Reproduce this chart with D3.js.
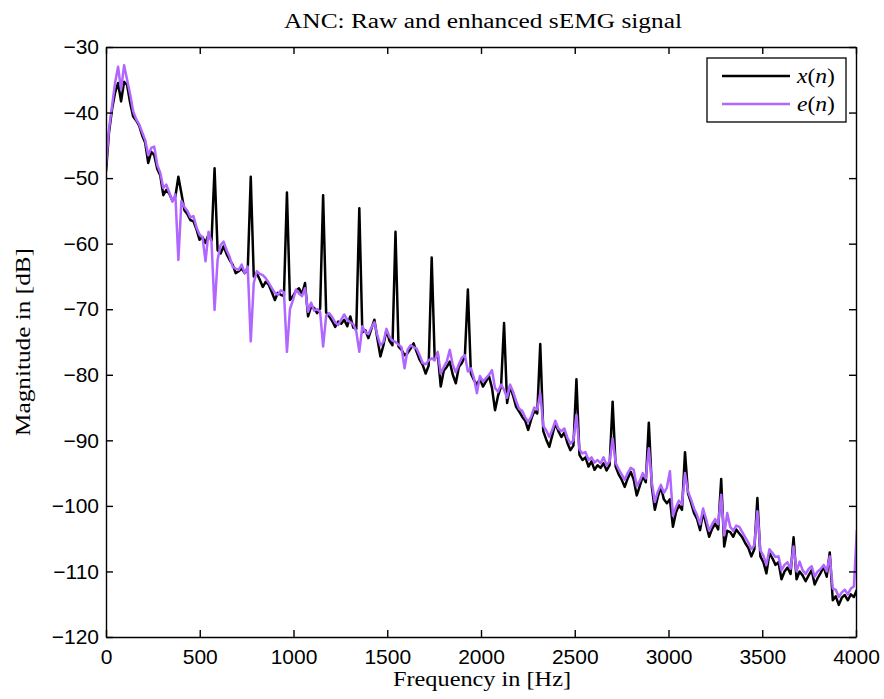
<!DOCTYPE html>
<html>
<head>
<meta charset="utf-8">
<script src="https://cdn.jsdelivr.net/npm/d3@7"></script>
<style>
  body { margin: 0; background: #fff; }
  .axis path, .axis line { stroke: #000; stroke-width: 1.4; }
  .axis text { font-family: "Liberation Sans", Arial, sans-serif; font-size: 21px; fill: #000; }
  .serif { font-family: "Liberation Serif", "Times New Roman", serif; fill: #000; }
</style>
</head>
<body>
<svg id="chart" width="884" height="699"></svg>
<script>

// spectrum bins: harmonics of the 193 Hz interference fall on every 12th bin
var binHz = 193 / 12;

// raw signal x(n), dB
var rawDb = [
  -49.0,-43.0,-39.5,-37.0,-35.5,-38.3,-35.3,-35.8,-38.5,-40.6,-41.2,-42.0,
  -43.5,-44.6,-47.7,-46.0,-46.5,-48.6,-49.6,-52.6,-51.8,-52.4,-53.4,-52.8,
  -49.8,-52.3,-54.9,-55.5,-56.4,-56.6,-57.8,-59.4,-59.0,-59.9,-58.6,-59.5,
  -48.5,-61.0,-61.5,-60.4,-61.6,-62.5,-63.2,-64.5,-64.2,-63.8,-64.5,-64.0,
  -49.8,-65.0,-64.5,-65.5,-66.6,-65.8,-66.3,-67.4,-68.6,-67.5,-67.8,-68.0,
  -52.2,-68.6,-68.0,-67.2,-66.8,-67.7,-66.0,-71.1,-69.6,-69.8,-70.6,-69.9,
  -52.6,-70.5,-71.1,-71.8,-72.7,-71.9,-72.2,-71.6,-72.6,-71.1,-72.8,-73.0,
  -54.6,-73.5,-73.2,-74.4,-73.0,-71.6,-74.5,-77.2,-75.5,-73.2,-74.8,-75.5,
  -58.2,-75.7,-76.2,-77.0,-76.7,-76.0,-75.2,-76.5,-77.7,-78.5,-79.8,-78.6,
  -62.1,-77.6,-76.7,-81.8,-79.4,-78.8,-78.0,-80.0,-81.3,-78.8,-78.2,-77.2,
  -67.0,-79.8,-80.8,-81.5,-80.6,-81.8,-81.0,-80.2,-82.0,-85.4,-83.2,-81.8,
  -72.1,-84.3,-81.8,-83.2,-84.9,-85.6,-86.4,-87.0,-88.4,-86.8,-85.5,-85.9,
  -75.3,-88.6,-89.9,-91.0,-89.2,-87.4,-88.6,-89.5,-88.8,-90.4,-91.5,-90.8,
  -80.7,-92.2,-93.0,-92.6,-94.0,-93.2,-94.5,-93.8,-94.2,-93.5,-94.6,-93.8,
  -84.1,-94.0,-95.2,-96.0,-97.1,-95.8,-94.8,-96.0,-98.4,-97.0,-95.5,-96.4,
  -87.3,-97.1,-100.6,-98.6,-97.1,-99.0,-99.6,-99.0,-103.2,-101.0,-99.9,-100.6,
  -91.8,-98.1,-99.5,-101.1,-102.0,-103.7,-100.9,-102.8,-104.7,-103.5,-102.7,-103.6,
  -95.9,-106.2,-103.8,-104.0,-104.7,-103.6,-104.2,-104.8,-105.7,-106.4,-107.7,-106.6,
  -98.8,-107.7,-108.6,-110.3,-107.2,-108.0,-109.0,-108.6,-111.2,-110.0,-109.4,-110.4,
  -104.8,-111.2,-110.0,-110.6,-111.5,-110.6,-109.8,-112.0,-111.0,-110.2,-109.3,-110.8,
  -107.1,-114.4,-113.8,-115.1,-114.0,-113.6,-114.4,-113.5,-113.9,-112.8
];

// enhanced signal e(n), dB
var enhDb = [
  -48.0,-42.5,-39.0,-35.5,-33.0,-36.5,-32.8,-35.0,-37.2,-39.8,-41.0,-41.8,
  -43.0,-44.2,-46.5,-45.4,-45.2,-48.0,-49.2,-51.5,-51.0,-52.2,-53.6,-52.5,
  -62.5,-53.5,-54.4,-55.0,-56.0,-55.8,-57.5,-58.6,-59.0,-62.7,-58.2,-59.8,
  -70.1,-62.5,-60.2,-59.7,-61.0,-62.0,-63.5,-63.8,-64.0,-63.2,-64.5,-63.5,
  -74.9,-66.0,-64.2,-64.6,-64.8,-65.3,-66.0,-66.8,-67.5,-67.8,-67.1,-67.4,
  -76.5,-70.0,-68.6,-67.0,-67.6,-68.0,-66.8,-70.4,-69.0,-70.2,-70.0,-70.4,
  -75.7,-71.0,-70.6,-71.2,-72.0,-72.4,-71.6,-70.8,-71.6,-72.0,-72.3,-73.4,
  -76.5,-72.6,-73.5,-73.8,-72.8,-72.0,-74.0,-75.5,-75.0,-73.0,-74.2,-74.8,
  -75.0,-75.4,-75.8,-79.0,-76.2,-75.5,-75.8,-76.0,-77.0,-78.2,-78.4,-77.8,
  -77.5,-77.8,-76.5,-79.8,-78.8,-78.0,-76.2,-78.5,-79.6,-78.4,-77.4,-77.0,
  -79.5,-79.0,-80.5,-82.8,-80.2,-81.0,-80.5,-80.0,-79.3,-82.0,-82.6,-81.5,
  -82.3,-83.5,-81.5,-82.6,-84.0,-85.2,-85.5,-86.5,-87.2,-86.4,-85.0,-85.3,
  -82.8,-87.8,-88.5,-89.5,-88.4,-87.0,-88.2,-88.6,-88.2,-89.6,-90.5,-90.0,
  -86.1,-91.4,-92.0,-91.8,-93.0,-92.6,-93.4,-93.0,-93.5,-92.6,-93.8,-93.2,
  -89.7,-93.4,-94.4,-95.2,-96.0,-95.0,-94.2,-94.5,-97.0,-96.2,-95.0,-95.8,
  -91.2,-96.4,-99.4,-97.8,-96.8,-98.0,-97.2,-94.7,-101.5,-100.2,-99.2,-99.8,
  -95.0,-97.8,-99.0,-100.4,-101.4,-102.8,-100.4,-102.0,-103.8,-102.8,-102.0,-102.8,
  -98.3,-104.5,-101.1,-103.2,-103.8,-103.0,-103.2,-104.0,-104.8,-105.6,-106.6,-106.0,
  -100.8,-106.8,-107.6,-109.0,-106.6,-107.2,-107.8,-107.7,-109.8,-109.0,-108.6,-109.6,
  -106.2,-110.0,-108.5,-109.8,-110.4,-109.6,-109.2,-110.8,-110.0,-109.6,-109.0,-110.0,
  -107.7,-112.6,-112.8,-113.9,-113.2,-112.8,-113.5,-112.6,-112.3,-103.7
];

var xTicks = [0, 500, 1000, 1500, 2000, 2500, 3000, 3500, 4000];
var yTicks = [-120, -110, -100, -90, -80, -70, -60, -50, -40, -30];

var seriesNames = ["x", "e"];
var seriesColors = ["#000000", "#b066ff"];



var svg = d3.select("#chart");

var marginTop = 47,
    marginLeft = 106,
    plotW = 750,
    plotH = 590;

var x = d3.scaleLinear().domain([0, 4000]).range([0, plotW]);
var y = d3.scaleLinear().domain([-120, -30]).range([plotH, 0]);

var g = svg.append("g")
    .attr("transform", "translate(" + marginLeft + "," + marginTop + ")");

g.append("clipPath").attr("id", "plotclip")
  .append("rect").attr("width", plotW).attr("height", plotH);


// lines
var line = d3.line()
    .x(function(d, i) { return x(i * binHz); })
    .y(function(d) { return y(d); });

[rawDb, enhDb].forEach(function(data, k) {
  g.append("path")
    .datum(data)
    .attr("clip-path", "url(#plotclip)")
    .attr("fill", "none")
    .attr("stroke", seriesColors[k])
    .attr("stroke-width", 2.5)
    .attr("stroke-linejoin", "round")
    .attr("d", line);
});


// axes, ticks pointing inside on all four sides
g.append("g").attr("class", "axis")
  .attr("transform", "translate(0," + plotH + ")")
  .call(d3.axisBottom(x).tickValues(xTicks).tickFormat(d3.format("d"))
          .tickSizeInner(-7).tickSizeOuter(0).tickPadding(12));

g.append("g").attr("class", "axis")
  .call(d3.axisTop(x).tickValues(xTicks).tickSizeInner(-7).tickSizeOuter(0).tickFormat(""));

g.append("g").attr("class", "axis")
  .call(d3.axisLeft(y).tickValues(yTicks).tickSizeInner(-7).tickSizeOuter(0).tickPadding(7));

g.append("g").attr("class", "axis")
  .attr("transform", "translate(" + plotW + ",0)")
  .call(d3.axisRight(y).tickValues(yTicks).tickSizeInner(-7).tickSizeOuter(0).tickFormat(""));


// texts (widths matched to the TeX-rendered originals)
function serifText(txt, len) {
  return svg.append("text").attr("class", "serif")
    .attr("text-anchor", "middle")
    .attr("textLength", len)
    .attr("lengthAdjust", "spacingAndGlyphs")
    .style("font-size", "20.5px")
    .text(txt);
}

serifText("ANC: Raw and enhanced sEMG signal", 398)
  .attr("x", marginLeft + plotW / 2 + 2).attr("y", 28);

serifText("Frequency in [Hz]", 178)
  .attr("x", marginLeft + plotW / 2 + 1).attr("y", 686);

serifText("Magnitude in [dB]", 188)
  .attr("transform", "translate(30," + (marginTop + plotH / 2) + ") rotate(-90)");


// legend
var legend = svg.append("g").attr("transform", "translate(707,58)");
legend.append("rect")
  .attr("width", 139).attr("height", 64)
  .attr("fill", "#fff").attr("stroke", "#000").attr("stroke-width", 1.3);

seriesNames.forEach(function(name, k) {
  var ly = 18 + k * 28;
  legend.append("line")
    .attr("x1", 15).attr("x2", 83).attr("y1", ly).attr("y2", ly)
    .attr("stroke", seriesColors[k]).attr("stroke-width", 2.5);
  var t = legend.append("text").attr("class", "serif")
    .attr("x", 90).attr("y", ly + 7)
    .attr("textLength", 38)
    .attr("lengthAdjust", "spacingAndGlyphs")
    .style("font-size", "20px");
  t.append("tspan").style("font-style", "italic").text(name);
  t.append("tspan").text("(");
  t.append("tspan").style("font-style", "italic").text("n");
  t.append("tspan").text(")");
});

</script>
</body>
</html>
